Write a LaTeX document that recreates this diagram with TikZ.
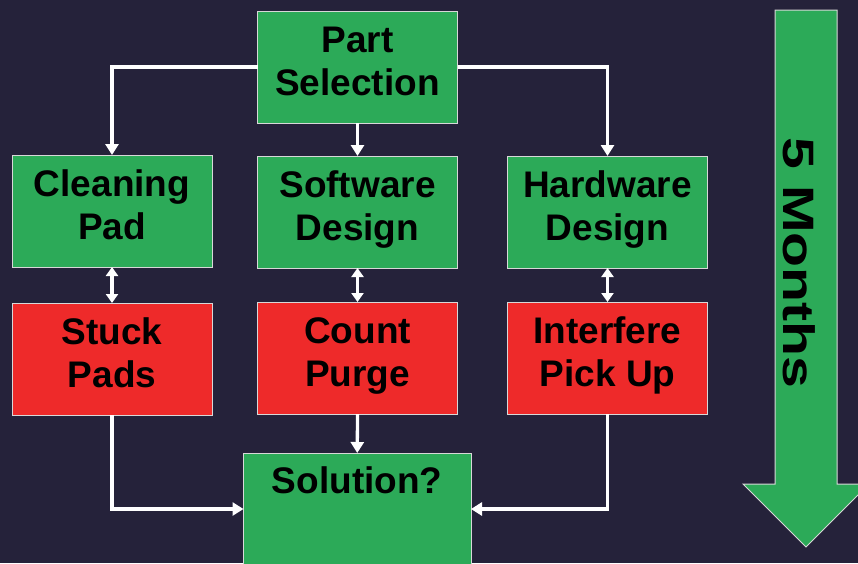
\documentclass[tikz,border=0pt]{standalone}
\usepackage{fontspec}
\setmainfont{Liberation Sans}
\usetikzlibrary{arrows.meta}
\definecolor{bg}{HTML}{25223A}
\definecolor{gfill}{HTML}{2CAA58}
\definecolor{rfill}{HTML}{EE2A2A}
\definecolor{edge}{HTML}{D8D8D8}
\newcommand\ls{\rule[-14pt]{0pt}{41pt}}
\begin{document}
\begin{tikzpicture}[x=1pt,y=-1pt,
  box/.style={draw=edge, line width=0.8pt, minimum width=200pt, minimum height=112pt,
    inner sep=0pt, outer sep=0pt, align=center, text=black,
    font=\bfseries\fontsize{37}{43}\selectfont},
  gbox/.style={box, fill=gfill},
  rbox/.style={box, fill=rfill},
  conn/.style={draw=white, line width=3.3pt, -{Triangle[width=13pt,length=11pt]}},
  dconn/.style={draw=white, line width=3.3pt,
    {Triangle[width=12pt,length=9pt]}-{Triangle[width=12pt,length=9pt]}},
  bigtxt/.style={font=\bfseries\fontsize{44}{44}\selectfont, text=black, inner sep=0pt}
]
\useasboundingbox (0,0) rectangle (858,563);
\fill[bg] (0,0) rectangle (858,563);
\clip (0,0) rectangle (858,563);

% boxes
\node[gbox] (ps)  at (357.5,67)  {\ls Part\\\ls Selection};
\node[gbox] (cp)  at (112,211)   {\ls Cleaning\\\ls Pad};
\node[gbox] (sd)  at (357.5,212) {\ls Software\\\ls Design};
\node[gbox] (hd)  at (607.5,212) {\ls Hardware\\\ls Design};
\node[rbox] (sp)  at (112,359)   {\ls Stuck\\\ls Pads};
\node[rbox] (cpg) at (357.5,358) {\ls Count\\\ls Purge};
\node[rbox] (ip)  at (607.5,358) {\ls Interfere\\\ls Pick Up};
\node[gbox, minimum width=227.5pt] (sol) at (357.25,509) {};
\node[anchor=base, font=\bfseries\fontsize{37}{43}\selectfont, text=black, inner sep=0pt]
  (soltxt) at ([yshift=-40pt]sol.north) {Solution?};

% connectors
\draw[conn] (ps.west) -| (cp.north);
\draw[conn] (ps.south) -- (sd.north);
\draw[conn] (ps.east) -| (hd.north);
\draw[dconn] (cp.south) -- (sp.north);
\draw[dconn] (sd.south) -- (cpg.north);
\draw[dconn] (hd.south) -- (ip.north);
\draw[conn] (cpg.south) -- (sol.north);
\draw[conn] (sp.south) |- (sol.west);
\draw[conn] (ip.south) |- (sol.east);

% big time arrow
\filldraw[fill=gfill, draw=edge, line width=1pt]
  (775,10) -- (837,10) -- (837,484) -- (869,484) -- (806,547) -- (743,484) -- (775,484) -- cycle;
\node[bigtxt, rotate=-90, xscale=1.3] (months) at (799,263) {5 Months};
\end{tikzpicture}
\end{document}
